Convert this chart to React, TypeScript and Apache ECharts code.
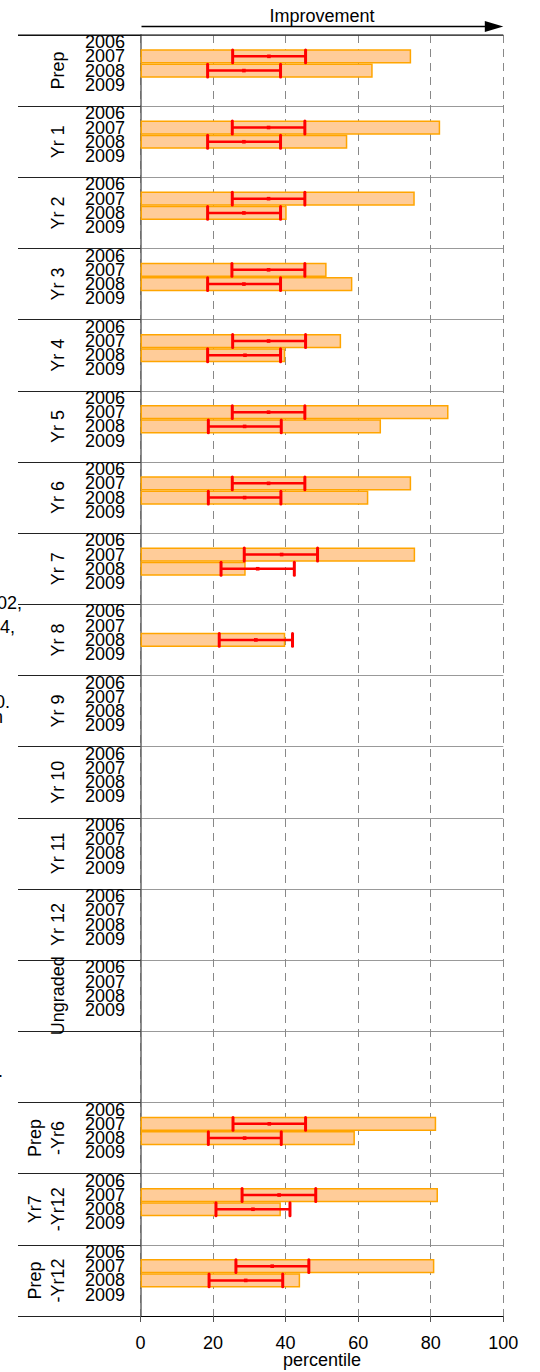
import React, { useEffect, useRef } from "react";
import * as echarts from "echarts";

// ---------- data ----------
const panelNames = [
  "Prep", "Yr 1", "Yr 2", "Yr 3", "Yr 4", "Yr 5", "Yr 6", "Yr 7", "Yr 8", "Yr 9",
  "Yr 10", "Yr 11", "Yr 12", "Ungraded", "", "Prep\n-Yr6", "Yr7\n-Yr12", "Prep\n-Yr12",
];
const years = ["2006", "2007", "2008", "2009"];
const xTicks = [0, 20, 40, 60, 80, 100];

const bar2007 = [74.6, 82.6, 75.6, 51.3, 55.3, 84.9, 74.6, 75.7, null, null, null, null, null, null, null, 81.5, 82.0, 81.0];
const bar2008 = [64.0, 57.0, 40.3, 58.4, 39.9, 66.3, 62.8, 29.0, 39.9, null, null, null, null, null, null, 59.1, 38.7, 44.0];

const low2007 = [25.4, 25.3, 25.3, 25.2, 25.4, 25.3, 25.3, 28.6, null, null, null, null, null, null, null, 25.5, 28.0, 26.3];
const mid2007 = [35.4, 35.3, 35.3, 35.3, 35.3, 35.3, 35.3, 38.9, null, null, null, null, null, null, null, 35.5, 38.2, 36.3];
const high2007 = [45.5, 45.3, 45.3, 45.3, 45.5, 45.3, 45.3, 48.8, null, null, null, null, null, null, null, 45.5, 48.3, 46.4];

const low2008 = [18.5, 18.5, 18.5, 18.5, 18.5, 18.7, 18.7, 22.2, 21.7, null, null, null, null, null, null, 18.7, 20.8, 18.9];
const mid2008 = [28.5, 28.5, 28.5, 28.5, 28.8, 28.7, 28.7, 32.3, 31.8, null, null, null, null, null, null, 28.7, 31.0, 29.0];
const high2008 = [38.6, 38.6, 38.6, 38.6, 38.6, 38.8, 38.7, 42.4, 41.9, null, null, null, null, null, null, 38.8, 41.2, 39.2];

// stray clipped text fragments at the left edge of the page
const strayTexts = [
  { text: "02,", y: 603, dx: -3 },
  { text: "4,", y: 627, dx: 0 },
  { text: "0.", y: 702, dx: -5 },
  { text: "n", y: 717, dx: -7 },
  { text: ".", y: 1071, dx: -2 },
];

// ---------- layout ----------
const FONT = "'Liberation Sans', Arial, Helvetica, sans-serif";
const W = 540;
const H = 1372;
const GRID_LEFT = 140.5;
const GRID_RIGHT_X = 503.3;
const GRID_TOP = 35;
const GRID_BOTTOM_Y = 1316;
const SLOTS = 5; // 4 years + gap

const categories: string[] = [];
panelNames.forEach((p, pi) => {
  years.forEach((y) => categories.push(pi + "|" + (p ? y : "")));
  categories.push(pi + "|");
});

export default function App() {
  const ref = useRef<HTMLDivElement>(null);

  useEffect(() => {
    if (!ref.current) return;
    const chart = echarts.init(ref.current, null, { renderer: "svg" });

    const barData: any[] = [];
    const errData: any[] = [];
    panelNames.forEach((_, pi) => {
      const i07 = pi * SLOTS + years.indexOf("2007");
      const i08 = pi * SLOTS + years.indexOf("2008");
      if (bar2007[pi] != null) barData.push([bar2007[pi], i07]);
      if (bar2008[pi] != null) barData.push([bar2008[pi], i08]);
      if (low2007[pi] != null) errData.push([low2007[pi], high2007[pi], mid2007[pi], i07]);
      if (low2008[pi] != null) errData.push([low2008[pi], high2008[pi], mid2008[pi], i08]);
    });

    const graphics: any[] = [
      {
        type: "line",
        shape: { x1: 18, y1: GRID_TOP, x2: GRID_RIGHT_X, y2: GRID_TOP },
        style: { stroke: "#000", lineWidth: 1 },
        z: 100,
      },
      {
        type: "text",
        x: (GRID_LEFT + GRID_RIGHT_X) / 2,
        y: 16.2,
        style: {
          text: "Improvement",
          fontSize: 18,
          fontFamily: FONT,
          fill: "#000",
          align: "center",
          verticalAlign: "middle",
        },
      },
      {
        type: "line",
        shape: { x1: GRID_LEFT + 1, y1: 26.5, x2: GRID_RIGHT_X - 14, y2: 26.5 },
        style: { stroke: "#000", lineWidth: 1.5 },
      },
      {
        type: "polygon",
        shape: { points: [[GRID_RIGHT_X - 18.5, 21], [GRID_RIGHT_X, 26.5], [GRID_RIGHT_X - 18.5, 32]] },
        style: { fill: "#000" },
      },
      ...strayTexts.map((s) => ({
        type: "text",
        x: s.dx,
        y: s.y,
        style: {
          text: s.text,
          fontSize: 18,
          fontFamily: FONT,
          fill: "#000",
          align: "left",
          verticalAlign: "middle",
        },
      })),
    ];

    chart.setOption({
      animation: false,
      textStyle: { fontFamily: FONT },
      grid: {
        left: GRID_LEFT,
        top: GRID_TOP,
        width: GRID_RIGHT_X - GRID_LEFT,
        height: GRID_BOTTOM_Y - GRID_TOP,
        containLabel: false,
        outerBoundsMode: "none",
      },
      xAxis: {
        type: "value",
        min: xTicks[0],
        max: xTicks[xTicks.length - 1],
        interval: xTicks[1] - xTicks[0],
        position: "bottom",
        axisLine: { show: true, lineStyle: { color: "#000", width: 1 } },
        axisTick: { show: true, length: 6, lineStyle: { color: "#555", width: 1 } },
        axisLabel: { fontSize: 18, color: "#000", margin: 18, fontFamily: FONT },
        splitLine: { show: true, lineStyle: { color: "#888", width: 1, type: [8, 6] } },
        name: "percentile",
        nameLocation: "middle",
        nameGap: 35,
        nameMoveOverlap: false,
        nameTextStyle: { fontSize: 18, color: "#000", fontFamily: FONT },
      },
      yAxis: [
        {
          type: "category",
          data: categories,
          inverse: true,
          position: "left",
          boundaryGap: true,
          axisLine: { show: true, lineStyle: { color: "#666", width: 1.5 } },
          axisTick: { show: false },
          splitLine: { show: false },
          axisLabel: {
            interval: 0,
            fontSize: 18,
            color: "#000",
            margin: 15.5,
            fontFamily: FONT,
            formatter: (v: string) => v.split("|")[1] || "",
          },
        },
        {
          type: "category",
          data: panelNames,
          inverse: true,
          position: "left",
          boundaryGap: true,
          axisLine: { show: false },
          axisTick: {
            show: true,
            interval: 0,
            length: GRID_LEFT - 18,
            lineStyle: { color: "#222", width: 1 },
          },
          splitLine: { show: true, interval: 0, lineStyle: { color: "#999", width: 1 } },
          axisLabel: {
            interval: 0,
            rotate: 90,
            fontSize: 18,
            lineHeight: 23.3,
            color: "#000",
            margin: 71,
            align: "center",
            verticalAlign: "bottom",
            fontFamily: FONT,
          },
        },
      ],
      series: [
        {
          type: "bar",
          xAxisIndex: 0,
          yAxisIndex: 0,
          data: barData,
          encode: { x: 0, y: 1 },
          barWidth: "100%",
          itemStyle: { color: "#FFCC99", borderColor: "#FFA500", borderWidth: 1.5 },
          z: 3,
        },
        {
          type: "custom",
          xAxisIndex: 0,
          yAxisIndex: 0,
          data: errData,
          encode: { x: [0, 1, 2], y: 3 },
          z: 5,
          renderItem: (params: any, api: any) => {
            const idx = api.value(3);
            const lo = api.coord([api.value(0), idx]);
            const hi = api.coord([api.value(1), idx]);
            const mid = api.coord([api.value(2), idx]);
            const band = api.size([0, 1])[1];
            const cap = band * 0.45;
            const red = "#FF0000";
            return {
              type: "group",
              children: [
                { type: "line", shape: { x1: lo[0], y1: lo[1], x2: hi[0], y2: hi[1] }, style: { stroke: red, lineWidth: 2.5 } },
                { type: "line", shape: { x1: lo[0], y1: lo[1] - cap, x2: lo[0], y2: lo[1] + cap }, style: { stroke: red, lineWidth: 3, lineCap: "round" } },
                { type: "line", shape: { x1: hi[0], y1: hi[1] - cap, x2: hi[0], y2: hi[1] + cap }, style: { stroke: red, lineWidth: 3, lineCap: "round" } },
                { type: "rect", shape: { x: mid[0] - 1.8, y: mid[1] - 1.8, width: 3.6, height: 3.6 }, style: { fill: red } },
              ],
            };
          },
        },
      ],
      graphic: graphics,
    });

    return () => chart.dispose();
  }, []);

  return (
    <div
      ref={ref}
      style={{ position: "absolute", left: 0, top: 0, width: W, height: H, background: "#fff" }}
    />
  );
}
